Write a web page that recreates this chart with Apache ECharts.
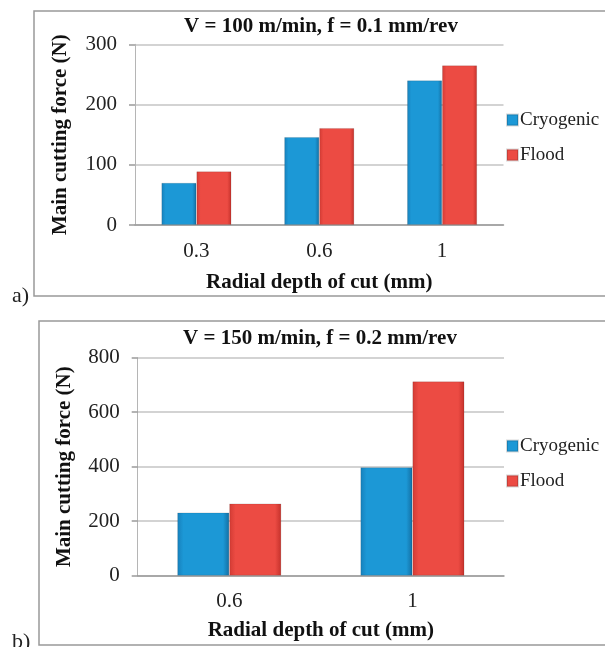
<!DOCTYPE html>
<html>
<head>
<meta charset="utf-8">
<script src="https://cdn.jsdelivr.net/npm/echarts@6/dist/echarts.min.js"></script>
<style>html,body{margin:0;padding:0;background:#fff;}#c{width:605px;height:647px;}</style>
</head>
<body>
<div id="c"></div>
<script>
var seriesNames = ['Cryogenic', 'Flood'];
var titleA = 'V = 100 m/min, f = 0.1 mm/rev';
var titleB = 'V = 150 m/min, f = 0.2 mm/rev';
var yName = 'Main cutting force (N)';
var xName = 'Radial depth of cut (mm)';
var catsA = ['0.3', '0.6', '1'];
var cryoA = [70, 146, 240];
var floodA = [89, 161, 265];
var catsB = ['0.6', '1'];
var cryoB = [232, 398];
var floodB = [265, 713];

var FONT = 'Liberation Serif';
function grad(c0, c1, c2) {
  return new echarts.graphic.LinearGradient(0, 0, 1, 0, [
    {offset: 0, color: c0}, {offset: 0.12, color: c1},
    {offset: 0.88, color: c1}, {offset: 1, color: c2}]);
}
var blue = grad('#1780bb', '#1c98d6', '#136fa3');
var red = grad('#d23b34', '#ec4b43', '#c4312b');

function xAxis(grid, cats, gap, labelMargin) {
  return {
    type: 'category', gridIndex: grid, data: cats,
    axisLine: {lineStyle: {color: '#9a9a9a', width: 1.5}},
    axisTick: {show: false},
    axisLabel: {fontFamily: FONT, fontSize: 21, color: '#222', margin: labelMargin},
    name: xName, nameLocation: 'middle', nameGap: gap,
    nameTextStyle: {fontFamily: FONT, fontSize: 21, fontWeight: 'bold', color: '#111'}
  };
}
function yAxis(grid, max, interval, gap) {
  return {
    type: 'value', gridIndex: grid, min: 0, max: max, interval: interval,
    axisLine: {show: true, lineStyle: {color: '#b5b5b5', width: 1}},
    axisTick: {show: true, length: 6, lineStyle: {color: '#9a9a9a', width: 1.5}},
    splitLine: {lineStyle: {color: '#c4c4c4', width: 1.5}},
    axisLabel: {fontFamily: FONT, fontSize: 21, color: '#222', margin: 18},
    name: yName, nameLocation: 'middle', nameGap: gap, nameRotate: 90,
    nameTextStyle: {fontFamily: FONT, fontSize: 21, fontWeight: 'bold', color: '#111'}
  };
}
function bar(name, data, idx, color, w) {
  return {
    name: name, type: 'bar', xAxisIndex: idx, yAxisIndex: idx, data: data,
    barWidth: w, barGap: '0%',
    itemStyle: {color: color, borderColor: 'rgba(0,0,0,0.15)', borderWidth: 0.8}
  };
}
function legend(top) {
  return {
    orient: 'vertical', left: 501, top: top, itemWidth: 11, itemHeight: 11,
    itemGap: 15, data: seriesNames, icon: 'rect',
    textStyle: {fontFamily: FONT, fontSize: 19, color: '#222', lineHeight: 20, padding: [0, 0, 0, -3]}
  };
}

var chart = echarts.init(document.getElementById('c'), null, {renderer: 'canvas'});
chart.setOption({
  animation: false,
  backgroundColor: '#fff',
  title: [
    {text: titleA, left: 321, textAlign: 'center', top: 16, padding: 0,
     textStyle: {fontFamily: FONT, fontSize: 21, fontWeight: 'bold', color: '#111'}},
    {text: titleB, left: 320, textAlign: 'center', top: 328, padding: 0,
     textStyle: {fontFamily: FONT, fontSize: 21, fontWeight: 'bold', color: '#111'}}
  ],
  legend: [legend(105), legend(431)],
  grid: [
    {left: 135, right: 101.5, top: 44.3, bottom: 422},
    {left: 137.7, right: 101, top: 357.7, bottom: 71.3}
  ],
  xAxis: [xAxis(0, catsA, 47, 16), xAxis(1, catsB, 44, 15.5)],
  yAxis: [yAxis(0, 300, 100, 64), yAxis(1, 800, 200, 63)],
  series: [
    bar(seriesNames[0], cryoA, 0, blue, 35),
    bar(seriesNames[1], floodA, 0, red, 35),
    bar(seriesNames[0], cryoB, 1, blue, 52),
    bar(seriesNames[1], floodB, 1, red, 52)
  ],
  graphic: [
    {type: 'rect', shape: {x: 34, y: 11, width: 620, height: 285},
     style: {fill: 'none', stroke: '#999', lineWidth: 1.5}, silent: true},
    {type: 'rect', shape: {x: 39, y: 321, width: 620, height: 324},
     style: {fill: 'none', stroke: '#999', lineWidth: 1.5}, silent: true},
    {type: 'text', x: 12, y: 296, style: {text: 'a)', font: '22px "Liberation Serif"', fill: '#222', verticalAlign: 'middle'}},
    {type: 'text', x: 12, y: 642, style: {text: 'b)', font: '22px "Liberation Serif"', fill: '#222', verticalAlign: 'middle'}}
  ]
});
</script>
</body>
</html>
